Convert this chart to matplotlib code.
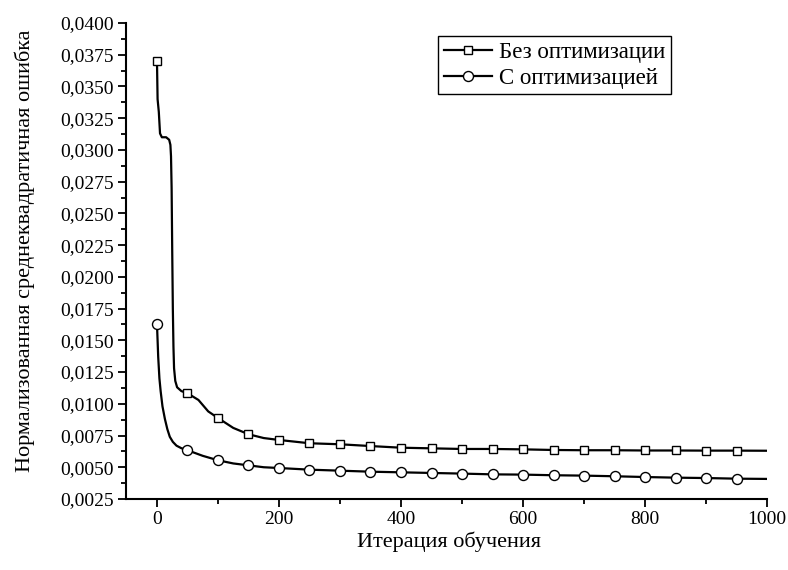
import matplotlib
matplotlib.use("Agg")
import matplotlib.pyplot as plt
from matplotlib.ticker import MultipleLocator, AutoMinorLocator, FuncFormatter

plt.rcParams["font.family"] = ["Liberation Serif", "DejaVu Serif"]

# Без оптимизации (squares)
base_x = [0, 1, 3, 5, 8, 15, 20, 22, 23, 24, 25, 26, 27, 28, 30, 33, 40, 50, 68, 84,
          100, 125, 150, 175, 200, 250, 300, 350, 400, 450, 500, 550, 600, 650, 700,
          750, 800, 850, 900, 950, 1000]
base_y = [0.0370, 0.0340, 0.0330, 0.0313, 0.0310, 0.0310, 0.0308, 0.0304, 0.0295,
          0.0270, 0.0220, 0.0175, 0.0145, 0.0128, 0.0118, 0.0113, 0.0110, 0.01083,
          0.0103, 0.0094, 0.00888, 0.0081, 0.0076, 0.0073, 0.00715, 0.00689, 0.00681,
          0.00667, 0.00654, 0.00649, 0.00644, 0.00644, 0.00641, 0.00636, 0.00634,
          0.00634, 0.00632, 0.00632, 0.00631, 0.00631, 0.0063]

# С оптимизацией (circles)
opt_x = [0, 1, 2, 4, 6, 9, 13, 17, 21, 26, 32, 40, 50, 75, 100, 125, 150, 175, 200,
         250, 300, 350, 400, 450, 500, 550, 600, 650, 700, 750, 800, 850, 900, 950, 1000]
opt_y = [0.01626, 0.0150, 0.0137, 0.0120, 0.0110, 0.0098, 0.0088, 0.0080, 0.0074,
         0.0070, 0.0067, 0.0065, 0.00634, 0.0059, 0.00555, 0.0053, 0.00515, 0.0050,
         0.00494, 0.00481, 0.00473, 0.00465, 0.0046, 0.00455, 0.0045, 0.00444,
         0.00442, 0.00437, 0.00434, 0.00429, 0.00423, 0.00418, 0.00415, 0.0041, 0.00408]

labels = ["Без оптимизации", "С оптимизацией"]


def marker_idx(xs):
    # markers every 50 iterations, none at the last point
    return [i for i, v in enumerate(xs) if v % 50 == 0 and v < 1000]


fig = plt.figure(figsize=(7.88, 5.70), dpi=100)
ax = fig.add_axes([0.1605, 0.1246, 0.8129, 0.835])

ax.plot(base_x, base_y, color="black", lw=1.6, marker="s", markersize=5.6,
        markerfacecolor="white", markeredgecolor="black", markeredgewidth=1.0,
        markevery=marker_idx(base_x), label=labels[0])
ax.plot(opt_x, opt_y, color="black", lw=1.6, marker="o", markersize=7.2,
        markerfacecolor="white", markeredgecolor="black", markeredgewidth=1.0,
        markevery=marker_idx(opt_x), label=labels[1])

ax.set_xlim(-50, 1000)
ax.set_ylim(0.0025, 0.0400)

ax.spines["top"].set_visible(False)
ax.spines["right"].set_visible(False)
ax.spines["left"].set_linewidth(1.5)
ax.spines["bottom"].set_linewidth(1.5)

ax.xaxis.set_major_locator(MultipleLocator(200))
ax.xaxis.set_minor_locator(AutoMinorLocator(2))
ax.yaxis.set_major_locator(MultipleLocator(0.0025))
ax.yaxis.set_minor_locator(AutoMinorLocator(2))
ax.yaxis.set_major_formatter(FuncFormatter(lambda v, p: f"{v:.4f}".replace(".", ",")))

ax.tick_params(which="major", direction="out", length=6, width=1.3, labelsize=14, pad=3)
ax.tick_params(which="minor", direction="out", length=3.5, width=1.3)

ax.set_xlabel("Итерация обучения", fontsize=16)
ax.set_ylabel("Нормализованная среднеквадратичная ошибка", fontsize=16)
ax.xaxis.set_label_coords(0.503, -0.068)
ax.yaxis.set_label_coords(-0.143, 0.522)

leg = ax.legend(loc="upper left", bbox_to_anchor=(0.487, 0.972), fontsize=16.5,
                frameon=True, fancybox=False, framealpha=1, edgecolor="black",
                numpoints=1, handlelength=2.1, handletextpad=0.3,
                borderpad=0.25, labelspacing=0.2, borderaxespad=0)
leg.get_frame().set_linewidth(1.0)

fig.savefig("out.png", dpi=100)
